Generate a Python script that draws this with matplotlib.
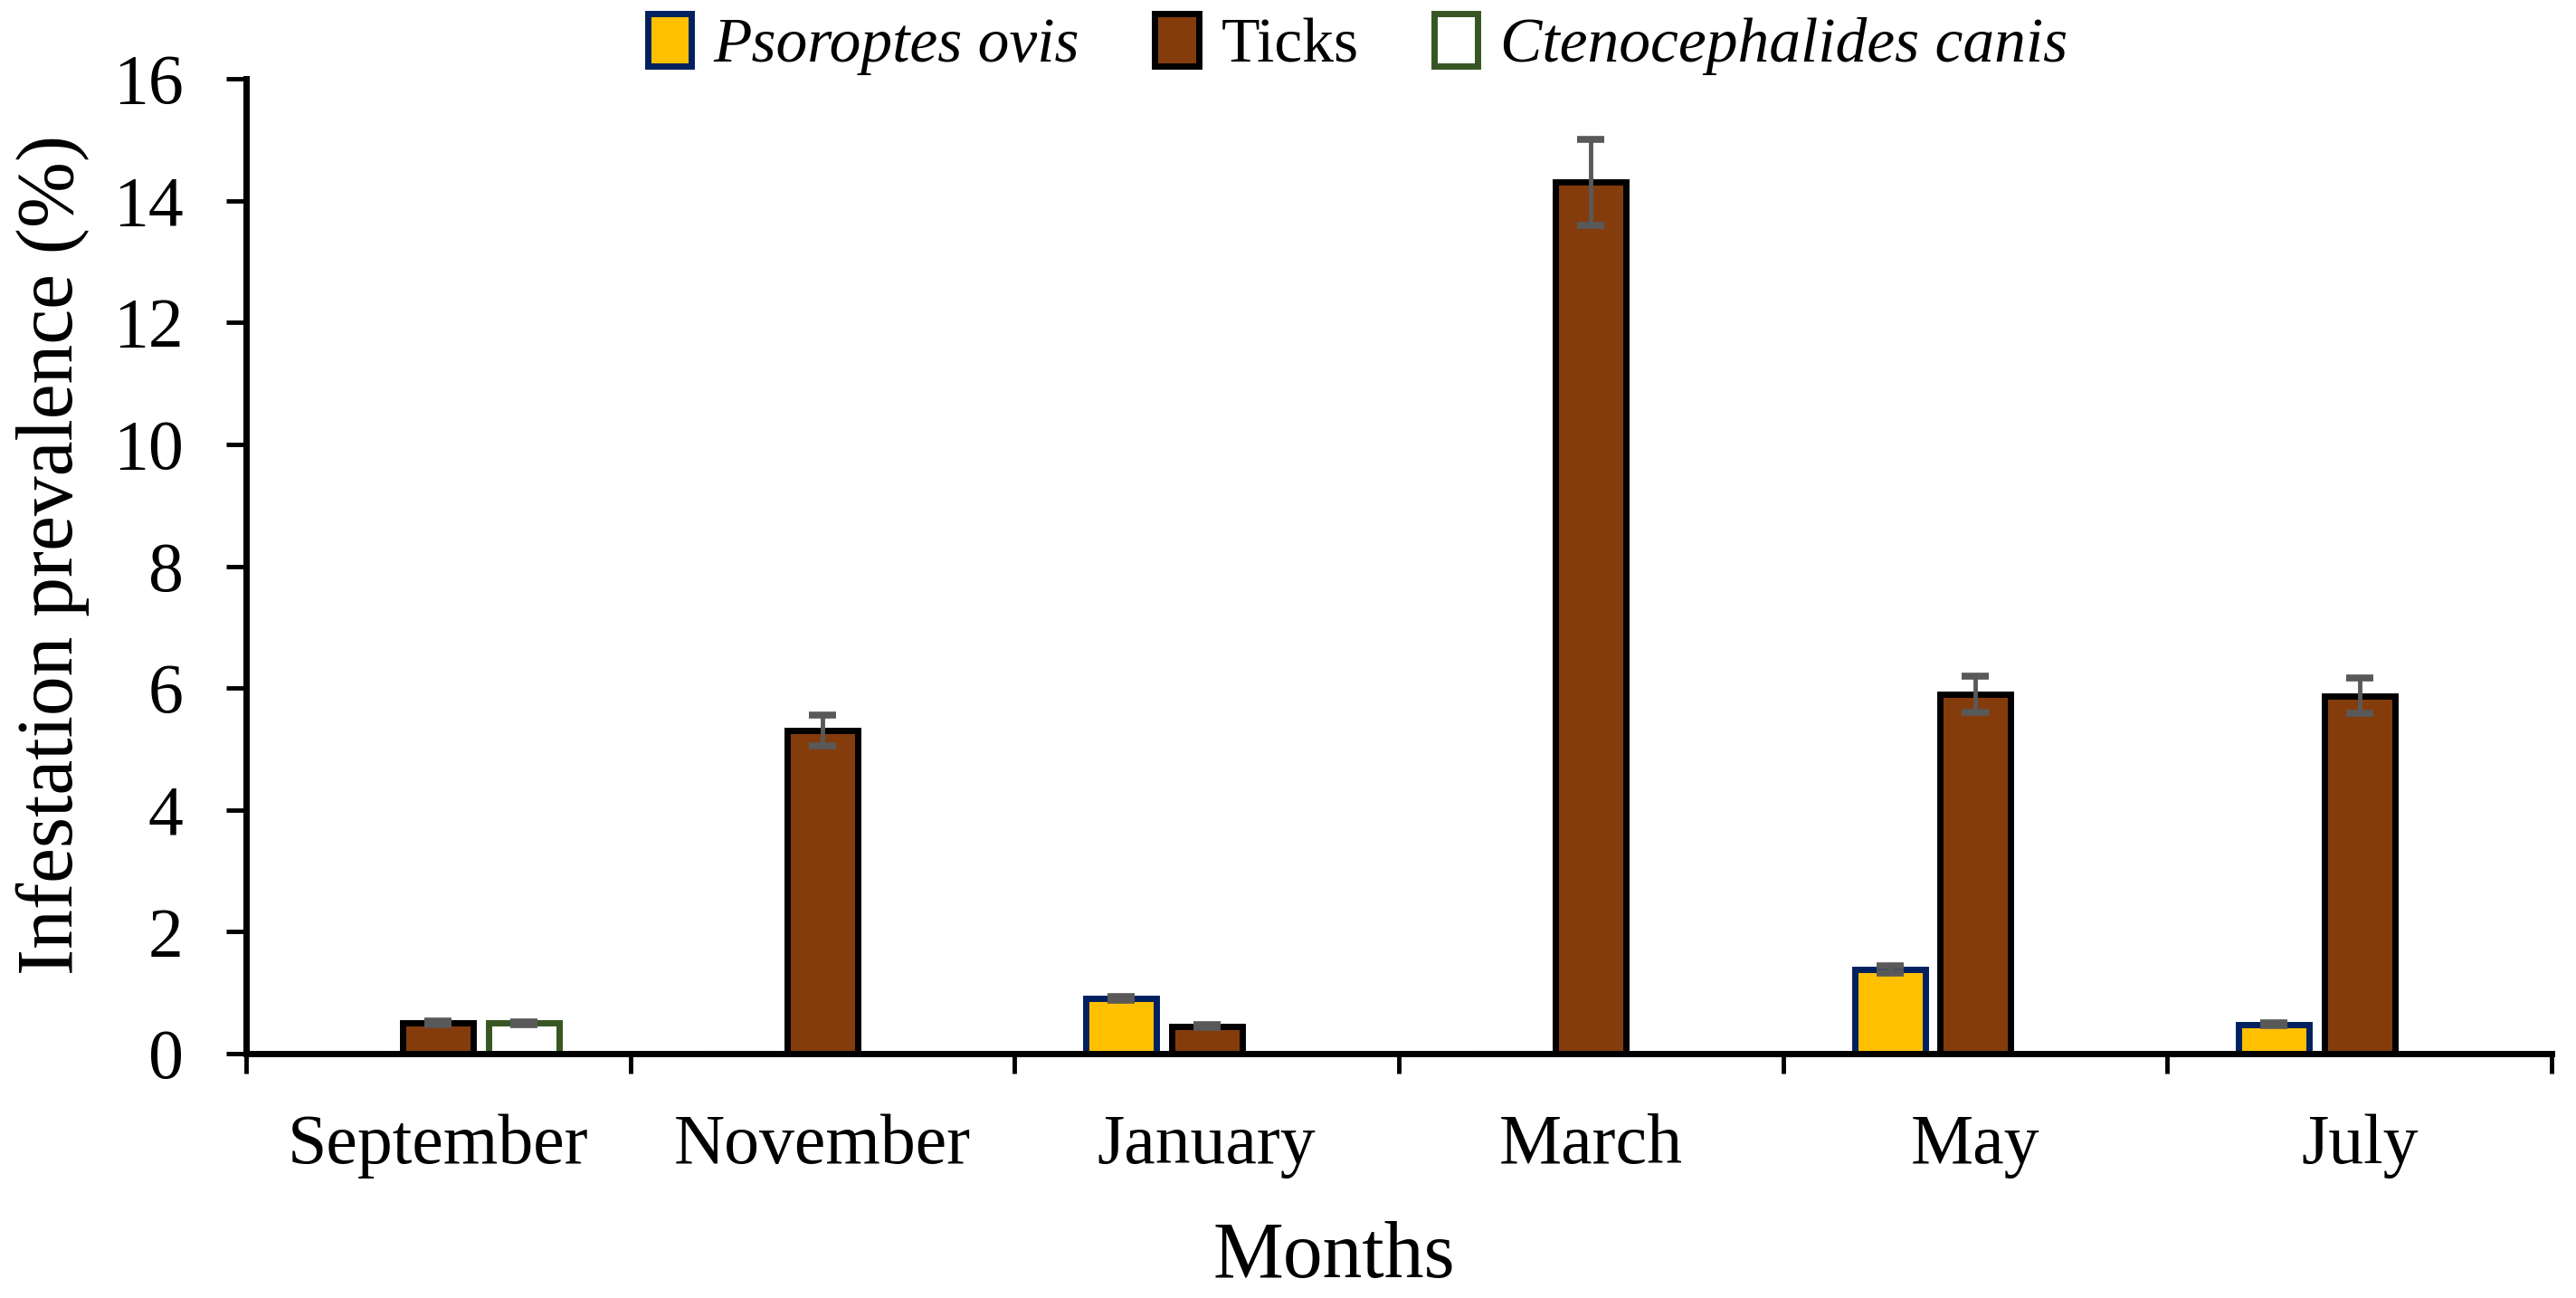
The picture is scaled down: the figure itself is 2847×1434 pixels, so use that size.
import matplotlib.pyplot as plt
import numpy as np

plt.rcParams['font.family'] = ['Liberation Serif', 'DejaVu Serif']

# data
months = ['September', 'November', 'January', 'March', 'May', 'July']
psoroptes = [0, 0, 0.90, 0, 1.38, 0.48]
psoroptes_err = [0, 0, 0.03, 0, 0.06, 0.02]
ticks = [0.50, 5.30, 0.45, 14.30, 5.90, 5.87]
ticks_err = [0.03, 0.25, 0.02, 0.70, 0.30, 0.29]
cteno = [0.50, 0, 0, 0, 0, 0]
cteno_err = [0.02, 0, 0, 0, 0, 0]

series = [
    ('Psoroptes ovis', psoroptes, psoroptes_err, '#FFC000', '#002060', 'italic'),
    ('Ticks', ticks, ticks_err, '#843C0C', '#000000', 'normal'),
    ('Ctenocephalides canis', cteno, cteno_err, '#FFFFFF', '#375623', 'italic'),
]

fig = plt.figure(figsize=(28.47, 14.34), dpi=100)
ax = fig.add_axes([272 / 2847, 1 - 1164 / 1434, (2820 - 272) / 2847, (1164 - 87) / 1434])

x = np.arange(len(months))
width = 0.184
step = 0.222

handles = []
for i, (name, vals, errs, fc, ec, st) in enumerate(series):
    pos = x + (i - 1) * step
    vals = np.array(vals)
    errs = np.array(errs)
    b = ax.bar(pos, vals, width, color=fc, edgecolor=ec, linewidth=5, label=name, zorder=2)
    m = vals > 0
    ax.errorbar(pos[m], vals[m], yerr=errs[m], fmt='none', ecolor='#595959',
                elinewidth=3.5, capsize=11, capthick=5.5, zorder=3)
    handles.append(b)

ax.set_xlim(-0.5, len(months) - 0.5)
ax.set_ylim(0, 16)
ax.set_yticks(np.arange(0, 17, 2))
ax.set_xticks(np.arange(-0.5, len(months), 1.0))
ax.set_xticklabels([])
ax.set_xticks(x, minor=True)
ax.set_xticklabels(months, minor=True)
ax.tick_params(axis='x', which='minor', length=0, pad=48, labelsize=56)
ax.tick_params(axis='x', which='major', length=16, width=3.5, direction='out')
ax.tick_params(axis='y', length=16, width=3.5, direction='out', labelsize=56, pad=34)

for s in ['top', 'right']:
    ax.spines[s].set_visible(False)
for s in ['left', 'bottom']:
    ax.spines[s].set_linewidth(5)

ax.set_xlabel('Months', fontsize=63)
ax.xaxis.set_label_coords(0.472, -0.172)
ax.set_ylabel('Infestation prevalence (%)', fontsize=63)
ax.yaxis.set_label_coords(-0.068, 0.512)

leg = ax.legend(handles=handles, loc='center', bbox_to_anchor=(0.482, 1.035), ncol=3,
                frameon=False, fontsize=50, handlelength=0.7, handleheight=0.9,
                handletextpad=0.35, columnspacing=1.2, borderaxespad=0)
for t, s in zip(leg.get_texts(), series):
    t.set_fontstyle(s[5])

fig.savefig('out.png', dpi=100)
